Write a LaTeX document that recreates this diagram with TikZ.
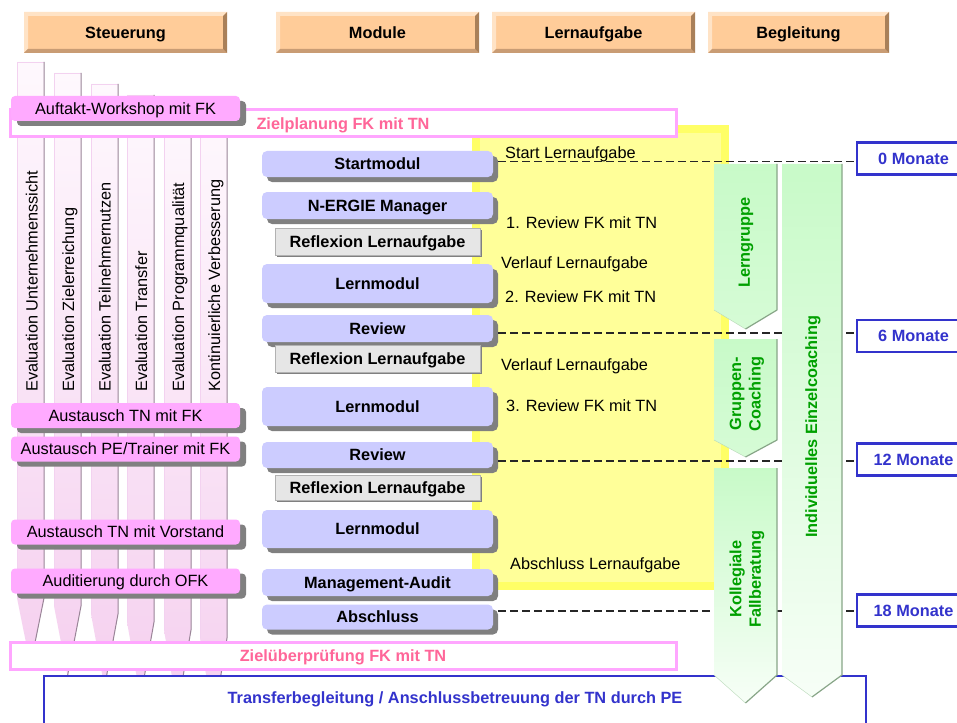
\documentclass[tikz,border=0pt]{standalone}
\usepackage{fontspec}
\setmainfont{Liberation Sans}
\usetikzlibrary{calc,shadows}
\definecolor{peach}{HTML}{FFCC99}
\definecolor{peachlt}{HTML}{FFE3C6}
\definecolor{peachdk}{HTML}{A98059}
\definecolor{peachdk2}{HTML}{C99C74}
\definecolor{evpink}{HTML}{FFAAFF}
\definecolor{stripA}{HTML}{FEF8FD}
\definecolor{stripB}{HTML}{F5D0EF}
\definecolor{stripedge}{HTML}{9A8598}
\definecolor{striplt}{HTML}{F3D2F0}
\definecolor{zielborder}{HTML}{FFA6FF}
\definecolor{zieltext}{HTML}{FF6699}
\definecolor{lav}{HTML}{CCCCFF}
\definecolor{shd}{HTML}{808080}
\definecolor{refl}{HTML}{E6E6E6}
\definecolor{ylwpale}{HTML}{FFFF99}
\definecolor{ylwbright}{HTML}{FFFF66}
\definecolor{mblue}{HTML}{3333CC}
\definecolor{grA}{HTML}{C8FAC8}
\definecolor{gredge}{HTML}{88A688}
\definecolor{grlight}{HTML}{B8D8B8}
\definecolor{grtext}{HTML}{00A000}
\newcommand\dfont{\fontsize{16.3}{19.5}\selectfont}
\begin{document}
\begin{tikzpicture}[x=1pt,y=-1pt,
  capc/.style={text height=11.7pt, text depth=0pt},
  hdr/.style={capc, fill=peach, inner sep=0pt, minimum height=41pt, font=\dfont\bfseries,
    path picture={
      \fill[peachlt] (path picture bounding box.north west) -- (path picture bounding box.north east)
        -- ([shift={(-4,4)}]path picture bounding box.north east) -- ([shift={(4,4)}]path picture bounding box.north west)
        -- ([shift={(4,-4)}]path picture bounding box.south west) -- (path picture bounding box.south west) -- cycle;
      \fill[peachdk2] (path picture bounding box.south west) -- (path picture bounding box.south east)
        -- ([shift={(-4,-4)}]path picture bounding box.south east) -- ([shift={(4,-4)}]path picture bounding box.south west) -- cycle;
      \fill[peachdk] (path picture bounding box.north east) -- (path picture bounding box.south east)
        -- ([shift={(-4,-4)}]path picture bounding box.south east) -- ([shift={(-4,4)}]path picture bounding box.north east) -- cycle;
    }},
  evtext/.style={inner sep=0pt, font=\dfont},
  evbox/.style={capc, fill=evpink, rounded corners=4pt, minimum width=229pt, minimum height=25pt, inner sep=0pt,
    font=\dfont, drop shadow={shadow xshift=6pt, shadow yshift=-5pt, fill=shd, opacity=1}},
  zielbox/.style={capc, draw=zielborder, line width=3pt, fill=white, minimum width=666pt, minimum height=27pt,
    inner sep=0pt, text=zieltext, font=\dfont\bfseries},
  modbox/.style={capc, fill=lav, rounded corners=5pt, minimum width=231pt, inner sep=0pt, font=\dfont\bfseries,
    drop shadow={shadow xshift=5pt, shadow yshift=-5pt, fill=shd, opacity=1}},
  reflbox/.style={capc, fill=refl, draw=gray!60, line width=0.6pt, minimum width=205pt, minimum height=27pt,
    inner sep=0pt, font=\dfont\bfseries,
    drop shadow={shadow xshift=1.5pt, shadow yshift=-1.5pt, fill=gray, opacity=1}},
  ytext/.style={anchor=base west, inner sep=0pt, font=\dfont},
  dashline/.style={dash pattern=on 8pt off 4pt, line width=1.1pt, black!85},
  mbox/.style={capc, draw=mblue, line width=2.5pt, fill=white, minimum width=113pt, minimum height=32pt,
    inner sep=0pt, text=mblue, font=\dfont\bfseries},
  grtxt/.style={rotate=90, text=grtext, font=\dfont\bfseries, align=center, inner sep=0pt},
  gredgeline/.style={gredge, line width=1.2pt, line join=round},
]
\useasboundingbox (0,0) rectangle (957,722);
\clip (0,0) rectangle (957,722);
\fill[white] (0,0) rectangle (957,722);

% headers
\node[hdr, minimum width=203pt] (hsteu) at (125.5,32.5) {Steuerung};
\node[hdr, minimum width=203pt] (hmod) at (377.5,32.5) {Module};
\node[hdr, minimum width=203pt] (hlern) at (593.5,32.5) {Lernaufgabe};
\node[hdr, minimum width=181pt] (hbeg) at (798.5,32.5) {Begleitung};

% evaluation strips
\foreach \x/\i in {17/0,54/1,91/2,127/3,164/4,200/5}{
  \shade[top color=stripA, bottom color=stripB]
    (\x,{62+11*\i}) -- (\x+27,{62+11*\i}) -- (\x+27,{598+8*\i}) -- (\x+13.5,{665+11*\i}) -- (\x,{598+8*\i}) -- cycle;
  \draw[striplt, line width=0.8pt] (\x,{598+8*\i}) -- (\x,{62+11*\i}) -- (\x+27,{62+11*\i});
  \draw[stripedge, line width=1pt] (\x+27,{62+11*\i}) -- (\x+27,{598+8*\i}) -- (\x+13.5,{665+11*\i});
}
\foreach \x/\n/\t in {37.5/1/Evaluation Unternehmenssicht, 74/2/Evaluation Zielerreichung,
  110.5/3/Evaluation Teilnehmernutzen, 147/4/Evaluation Transfer,
  184/5/Evaluation Programmqualität, 220/6/Kontinuierliche Verbesserung}{
  \node[evtext, rotate=90, anchor=base west] (ev\n) at (\x,392) {\t};
}

% yellow area
\fill[ylwpale] (472,125) rectangle (729,590);
\draw[ylwbright, line width=8pt] (476,129) rectangle (725,586);

% goal boxes
\node[zielbox] (zplan) at (343,123.5) {Zielplanung FK mit TN};
\node[zielbox] (zpruef) at (343,656) {Zielüberprüfung FK mit TN};

% transfer box
\node[draw=mblue, line width=1.2pt, fill=white, minimum width=822pt, minimum height=54pt, inner sep=0pt] (transfer) at (455,703) {};
\node[capc, inner sep=0pt, text=mblue, font=\dfont\bfseries] (transfertxt) at (455,698) {Transferbegleitung / Anschlussbetreuung der TN durch PE};

% Steuerung event boxes
\node[evbox] (auftakt) at (125.5,108.5) {Auftakt-Workshop mit FK};
\node[evbox] (austfk) at (125.5,415.5) {Austausch TN mit FK};
\node[evbox] (austpe) at (125.5,449) {Austausch PE/Trainer mit FK};
\node[evbox] (austvor) at (125.5,532) {Austausch TN mit Vorstand};
\node[evbox] (audit) at (125.5,581) {Auditierung durch OFK};

% module boxes
\node[modbox, minimum height=26pt] (start) at (377.5,164) {Startmodul};
\node[modbox, minimum height=27pt] (nergie) at (377.5,205.5) {N-ERGIE Manager};
\node[reflbox] (refl1) at (377.5,242) {Reflexion Lernaufgabe};
\node[modbox, minimum height=39pt] (lern1) at (377.5,283.5) {Lernmodul};
\node[modbox, minimum height=27pt] (review1) at (377.5,328.5) {Review};
\node[reflbox] (refl2) at (377.5,358.5) {Reflexion Lernaufgabe};
\node[modbox, minimum height=39pt] (lern2) at (377.5,406.5) {Lernmodul};
\node[modbox, minimum height=26pt] (review2) at (377.5,455) {Review};
\node[reflbox, minimum height=25pt] (refl3) at (377.5,487.5) {Reflexion Lernaufgabe};
\node[modbox, minimum height=38pt] (lern3) at (377.5,529) {Lernmodul};
\node[modbox, minimum height=27pt] (mgmt) at (377.5,582.5) {Management-Audit};
\node[modbox, minimum height=25pt] (abschluss) at (377.5,617) {Abschluss};

% Lernaufgabe texts
\node[ytext] (la1) at (505,158) {Start Lernaufgabe};
\node[ytext] (la2) at (506,228) {1. Review FK mit TN};
\node[ytext] (la3) at (501,268) {Verlauf Lernaufgabe};
\node[ytext] (la4) at (505,302) {2. Review FK mit TN};
\node[ytext] (la5) at (501,370) {Verlauf Lernaufgabe};
\node[ytext] (la6) at (506,411) {3. Review FK mit TN};
\node[ytext] (la7) at (510,569) {Abschluss Lernaufgabe};

% month boxes
\node[mbox] (m0) at (913.5,158.5) {0 Monate};
\node[mbox] (m6) at (913.5,336) {6 Monate};
\node[mbox] (m12) at (913.5,459.5) {12 Monate};
\node[mbox] (m18) at (913.5,610.5) {18 Monate};

% dashed time lines
\draw[dashline] ($(start.east |- m0.west)+(5,3)$) -- ([yshift=-3pt]m0.west);
\draw[dashline] ($(review1.east |- m6.west)+(5,-3)$) -- ([yshift=3pt]m6.west);
\draw[dashline] ($(review2.east |- m12.west)+(5,1.5)$) -- ([yshift=-1.5pt]m12.west);
\draw[dashline] ($(abschluss.east |- m18.west)+(5,0.5)$) -- ([yshift=-0.5pt]m18.west);

% Begleitung arrows
\shade[top color=grA, bottom color=grA!75!white] (714,164) -- (777,164) -- (777,310) -- (745.5,329) -- (714,310) -- cycle;
\draw[grlight] (714,310) -- (745.5,329);
\draw[gredgeline] (777,164) -- (777,310) -- (745.5,329);
\node[grtxt] (lerngruppe) at (746,242.5) {Lerngruppe};

\shade[top color=grA, bottom color=grA!75!white] (714,339) -- (777,339) -- (777,440) -- (745.5,457) -- (714,440) -- cycle;
\draw[grlight] (714,440) -- (745.5,457);
\draw[gredgeline] (777,339) -- (777,440) -- (745.5,457);
\node[grtxt] (gruppen) at (747,394) {Gruppen-\\Coaching};

\shade[top color=grA, bottom color=grA!15!white] (714,468) -- (777,468) -- (777,675) -- (745.5,703) -- (714,675) -- cycle;
\draw[grlight] (714,675) -- (745.5,703);
\draw[gredgeline] (777,468) -- (777,675) -- (745.5,703);
\node[grtxt] (kollegiale) at (747,579) {Kollegiale\\Fallberatung};

\shade[top color=grA, bottom color=grA!15!white] (782,164) -- (842,164) -- (842,675) -- (812,697) -- (782,675) -- cycle;
\draw[grlight] (782,675) -- (812,697);
\draw[gredgeline] (842,164) -- (842,675) -- (812,697);
\node[grtxt] (einzel) at (813,427) {Individuelles Einzelcoaching};
\end{tikzpicture}
\end{document}
